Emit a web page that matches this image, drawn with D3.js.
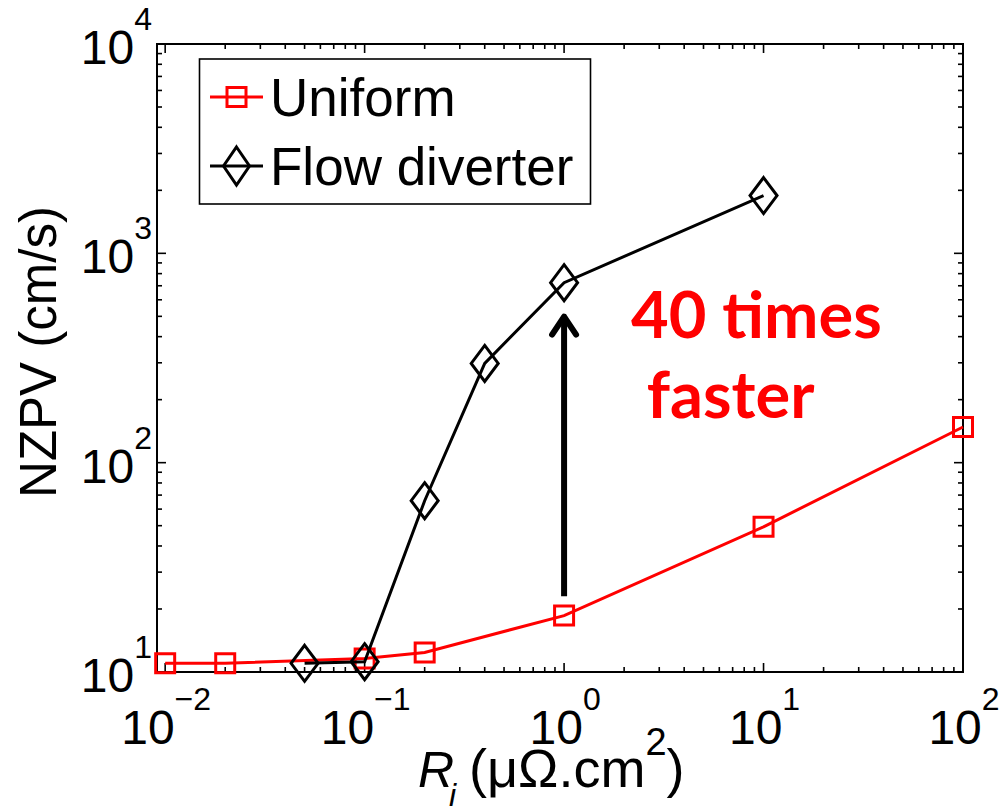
<!DOCTYPE html>
<html>
<head>
<meta charset="utf-8">
<script src="https://cdn.jsdelivr.net/npm/d3@7"></script>
<style>
  body { margin: 0; background: #fff; }
  svg { display: block; }
</style>
</head>
<body>
<svg id="chart" width="1004" height="812"></svg>
<script>
// Junction resistance R_i (µΩ·cm²) vs NZPV (cm/s)
const riUniform = [0.01, 0.02, 0.1, 0.2, 1, 10, 100];
const nzpvUniform = [11, 11, 11.6, 12.4, 18.6, 49.4, 148];
const riDiverter = [0.05, 0.1, 0.2, 0.4, 1, 10];
const nzpvDiverter = [11, 11.2, 65.8, 298, 724, 1888];

const xTickExponents = [-2, -1, 0, 1, 2];
const yTickExponents = [1, 2, 3, 4];
const seriesNames = ["Uniform", "Flow diverter"];
const noteLines = ["40 times", " faster"];
// arrow from the Uniform value to the Flow diverter value at R_i = 1
const arrowFrom = [1, 23];
const arrowTo = [1, 510];

const FONT = "'Liberation Sans', Arial, Helvetica, sans-serif";
const RED = "#ff0000";

const svg = d3.select("#chart");
const plot = { left: 157, right: 963, top: 44, bottom: 672 };

const x = d3.scaleLog().domain([0.0091, 100]).range([plot.left, plot.right]);
const y = d3.scaleLog().domain([10, 10000]).range([plot.bottom, plot.top]);

// minor ticks 2..9 per decade
function minorTicks(scale, lo, hi) {
  const out = [];
  const [d0, d1] = scale.domain();
  for (let e = lo; e < hi; e++) {
    for (let m = 2; m <= 9; m++) {
      const v = m * Math.pow(10, e);
      if (v > d0 && v < d1) out.push(v);
    }
  }
  return out;
}
const xMajor = xTickExponents.map(e => Math.pow(10, e));
const yMajor = yTickExponents.map(e => Math.pow(10, e));
const xMinor = minorTicks(x, -3, 2);
const yMinor = minorTicks(y, 1, 4);

const axisG = svg.append("g");

// inward ticks on all four sides
const ticks = axisG.append("g").attr("stroke", "#000").attr("stroke-width", 1.6);
function addXTicks(vals, len) {
  vals.forEach(v => {
    ticks.append("line").attr("x1", x(v)).attr("x2", x(v))
      .attr("y1", plot.bottom).attr("y2", plot.bottom - len);
    ticks.append("line").attr("x1", x(v)).attr("x2", x(v))
      .attr("y1", plot.top).attr("y2", plot.top + len);
  });
}
function addYTicks(vals, len) {
  vals.forEach(v => {
    ticks.append("line").attr("y1", y(v)).attr("y2", y(v))
      .attr("x1", plot.left).attr("x2", plot.left + len);
    ticks.append("line").attr("y1", y(v)).attr("y2", y(v))
      .attr("x1", plot.right).attr("x2", plot.right - len);
  });
}
addXTicks(xMajor, 9);
addXTicks(xMinor, 5);
addYTicks(yMajor, 9);
addYTicks(yMinor, 5);

// box
axisG.append("rect")
  .attr("x", plot.left).attr("y", plot.top)
  .attr("width", plot.right - plot.left).attr("height", plot.bottom - plot.top)
  .attr("fill", "none").attr("stroke", "#000").attr("stroke-width", 2);

// tick labels: 10 with superscript exponent
function expLabel(sel, e) {
  sel.append("tspan").attr("font-size", 48).text("10");
  sel.append("tspan").attr("font-size", 32).attr("dy", -34)
    .text(e < 0 ? "\u2212" + (-e) : String(e));
}
xTickExponents.forEach(e => {
  axisG.append("text")
    .attr("x", x(Math.pow(10, e)) + 1).attr("y", 744)
    .attr("text-anchor", "middle").attr("font-family", FONT).attr("fill", "#000")
    .call(expLabel, e);
});
yTickExponents.forEach(e => {
  axisG.append("text")
    .attr("x", plot.left - 5).attr("y", y(Math.pow(10, e)) + 20)
    .attr("text-anchor", "end").attr("font-family", FONT).attr("fill", "#000")
    .call(expLabel, e);
});

// axis titles
svg.append("text")
  .attr("transform", "translate(56,352) rotate(-90)")
  .attr("text-anchor", "middle").attr("font-family", FONT)
  .attr("font-size", 51).attr("fill", "#000")
  .text("NZPV (cm/s)");

const xt = svg.append("text").attr("font-family", FONT).attr("fill", "#000").attr("y", 787);
xt.append("tspan").attr("x", 418).attr("font-size", 50).attr("font-style", "italic").text("R");
xt.append("tspan").attr("x", 449).attr("y", 806).attr("font-size", 32).attr("font-style", "italic").text("i");
xt.append("tspan").attr("x", 469).attr("y", 787).attr("font-size", 54).text("(\u03bc\u03a9.cm");
xt.append("tspan").attr("dy", -32).attr("font-size", 38).text("2");
xt.append("tspan").attr("dy", 32).attr("font-size", 54).text(")");

// series
const line = d3.line().x(d => x(d[0])).y(d => y(d[1]));
const uniform = riUniform.map((r, i) => [r, nzpvUniform[i]]);
const diverter = riDiverter.map((r, i) => [r, nzpvDiverter[i]]);

const SQ = 19;
function squarePath(cx, cy) {
  const h = SQ / 2;
  return `M${cx - h},${cy - h}H${cx + h}V${cy + h}H${cx - h}Z`;
}
function diamondPath(cx, cy, hw, hh) {
  return `M${cx},${cy - hh}L${cx + hw},${cy}L${cx},${cy + hh}L${cx - hw},${cy}Z`;
}

svg.append("path").datum(uniform).attr("d", line)
  .attr("fill", "none").attr("stroke", RED).attr("stroke-width", 3);
svg.append("g").selectAll("path").data(uniform).join("path")
  .attr("d", d => squarePath(x(d[0]), y(d[1])))
  .attr("fill", "none").attr("stroke", RED).attr("stroke-width", 3);

svg.append("path").datum(diverter).attr("d", line)
  .attr("fill", "none").attr("stroke", "#000").attr("stroke-width", 3);
svg.append("g").selectAll("path").data(diverter).join("path")
  .attr("d", d => diamondPath(x(d[0]), y(d[1]), 13.5, 18))
  .attr("fill", "none").attr("stroke", "#000").attr("stroke-width", 3);

// arrow
const ax = x(arrowFrom[0]), ay0 = y(arrowFrom[1]), ay1 = y(arrowTo[1]);
svg.append("line").attr("x1", ax).attr("x2", ax).attr("y1", ay0).attr("y2", ay1 + 2)
  .attr("stroke", "#000").attr("stroke-width", 6);
svg.append("path")
  .attr("d", `M${ax - 12},${ay1 + 20}L${ax},${ay1 + 2}L${ax + 12},${ay1 + 20}`)
  .attr("fill", "none").attr("stroke", "#000").attr("stroke-width", 6)
  .attr("stroke-linecap", "round").attr("stroke-linejoin", "round");

// annotation
const note = svg.append("text").attr("font-family", "Lato, 'Open Sans', sans-serif")
  .attr("font-weight", "bold").attr("font-size", 65).attr("fill", RED)
  .attr("xml:space", "preserve").style("white-space", "pre");
note.append("tspan").attr("x", 631).attr("y", 338).text(noteLines[0]);
note.append("tspan").attr("x", 631).attr("y", 418).text(noteLines[1]);

// legend
const lg = svg.append("g");
lg.append("rect").attr("x", 199.5).attr("y", 59).attr("width", 391).attr("height", 145)
  .attr("fill", "#fff").attr("stroke", "#000").attr("stroke-width", 1.6);
const rows = [
  { name: seriesNames[0], color: RED, cy: 97, marker: (cx, cy) => squarePath(cx, cy) },
  { name: seriesNames[1], color: "#000", cy: 166, marker: (cx, cy) => diamondPath(cx, cy, 13, 19) }
];
rows.forEach(r => {
  lg.append("line").attr("x1", 210).attr("x2", 263).attr("y1", r.cy).attr("y2", r.cy)
    .attr("stroke", r.color).attr("stroke-width", 3);
  lg.append("path").attr("d", r.marker(236.5, r.cy))
    .attr("fill", "none").attr("stroke", r.color).attr("stroke-width", 3);
  lg.append("text").attr("x", 270).attr("y", r.cy + 19)
    .attr("font-family", FONT).attr("font-size", 53).attr("fill", "#000")
    .text(r.name);
});
</script>
</body>
</html>
